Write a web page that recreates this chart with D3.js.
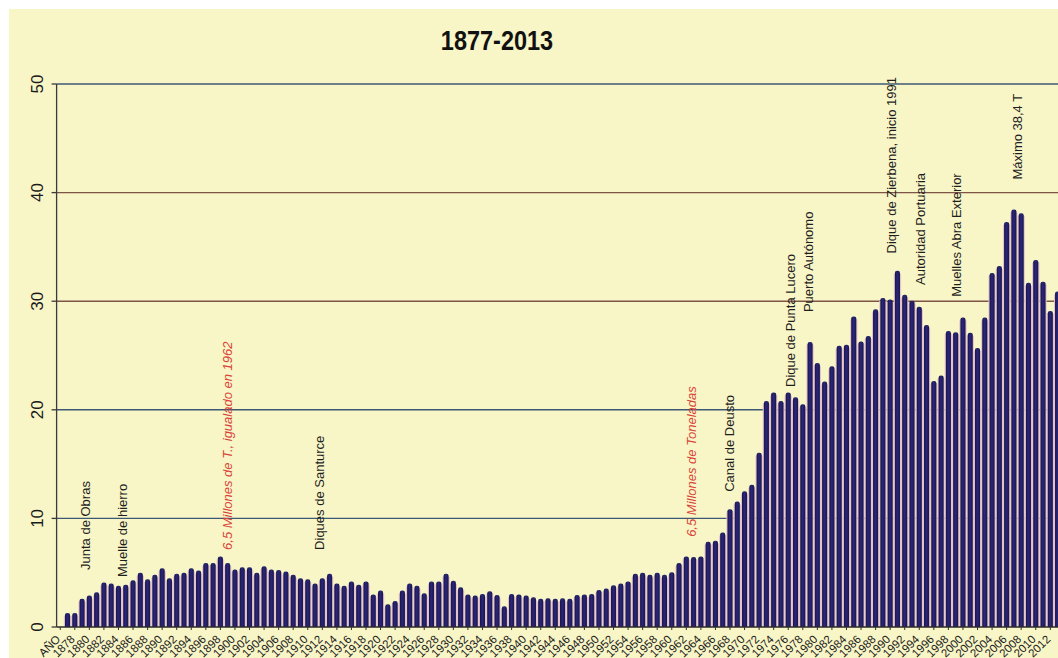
<!DOCTYPE html>
<html><head><meta charset="utf-8">
<script src="https://cdn.jsdelivr.net/npm/d3@7"></script>
<style>body{margin:0;background:#fff} svg{display:block} text{font-family:"Liberation Sans",Arial,sans-serif}</style>
</head><body><svg id="c" width="1058" height="658"></svg>
<script>
const title = "1877-2013";
const years = d3.range(1877, 2014).map(String);
const categories = ["AÑO", ...years];
const tonnage = [
  1.3,1.3,2.6,2.9,3.2,4.1,4.0,3.8,3.9,4.3,
  5.0,4.4,4.8,5.4,4.5,4.9,5.0,5.4,5.2,5.9,
  5.9,6.5,5.9,5.3,5.5,5.5,5.0,5.6,5.3,5.25,
  5.1,4.8,4.5,4.4,4.0,4.5,4.9,4.0,3.8,4.2,
  3.9,4.2,3.0,3.35,2.1,2.4,3.35,4.0,3.8,3.1,
  4.2,4.2,4.9,4.25,3.65,3.0,2.9,3.05,3.3,2.95,
  1.9,3.05,3.0,2.9,2.75,2.6,2.65,2.6,2.65,2.6,
  2.95,3.0,3.05,3.4,3.55,3.85,4.0,4.2,4.9,5.0,
  4.8,5.0,4.8,5.05,5.9,6.5,6.45,6.5,7.85,7.95,
  8.7,10.85,11.55,12.5,13.1,16.05,20.8,21.6,20.8,21.6,
  21.15,20.5,26.25,24.3,22.6,24.0,25.9,26.0,28.6,26.3,
  26.8,29.25,30.3,30.15,32.8,30.6,30.05,29.5,27.8,22.65,
  23.15,27.25,27.15,28.5,27.1,25.7,28.5,32.6,33.25,37.3,
  38.45,38.1,31.7,33.8,31.8,29.1,30.9
];
const yTicks = [0,10,20,30,40,50];
const xTickLabels = ["AÑO", ...d3.range(1878, 2013, 2).map(String)];
const noteTexts = ["Junta de Obras","Muelle de hierro","6,5 Millones de T., igualado en 1962","Diques de Santurce",
  "6,5 Millones de Toneladas","Canal de Deusto","Dique de Punta Lucero","Puerto Autónomo",
  "Dique de Zierbena, inicio 1991","Autoridad Portuaria","Muelles Abra Exterior","Máximo 38,4 T"];
const noteYears = [1879.5,1884.5,1899.0,1911.6,1962.7,1967.9,1976.3,1978.8,1990.2,1994.2,1999.1,2007.4];
const noteBase  = [5.25,4.6,7.1,7.1,8.3,12.45,22.1,29.0,34.4,31.5,30.4,41.2];
const noteKinds = ["event","event","record","event","record","event","event","event","event","event","event","event"];

const W = 1058, H = 658;
const svg = d3.select("#c");
svg.append("rect").attr("x",9).attr("y",9).attr("width",W-9).attr("height",H-9).attr("fill","#f8f5c6");

const step = 7.28, x0 = 56.6;
const x = d3.scaleBand().domain(categories).range([x0, x0 + categories.length*step]).paddingInner(0.3).paddingOuter(0.15);
const y = d3.scaleLinear().domain([0,50]).range([627,84]);
const bw = x.bandwidth();

const defs = svg.append("defs");
const g = defs.append("linearGradient").attr("id","bar").attr("x1","0").attr("x2","1").attr("y1","0").attr("y2","0");
g.append("stop").attr("offset","0%").attr("stop-color","#16134a");
g.append("stop").attr("offset","45%").attr("stop-color","#2b2778");
g.append("stop").attr("offset","100%").attr("stop-color","#191650");

// gridlines
svg.append("g").selectAll("line").data(yTicks.filter(v=>v>0)).join("line")
  .attr("x1", x0).attr("x2", W).attr("y1", d=>y(d)).attr("y2", d=>y(d))
  .attr("stroke", d => (d===30||d===40) ? "#7e5446" : "#3d5873").attr("stroke-width",1.4);

// bars
const data = years.map((yr,i)=>({yr, v: tonnage[i]}));
svg.append("g").selectAll("rect").data(data).join("rect")
  .attr("x", d=>x(d.yr)-1.1).attr("width", bw+2.2)
  .attr("y", d=>y(d.v)+3).attr("height", d=>Math.max(0,y(0)-y(d.v)-3))
  .attr("fill","#e3c2cb");
svg.append("g").selectAll("path").data(data).join("path")
  .attr("fill","url(#bar)")
  .attr("d", d=>{
    const l = x(d.yr), r = l + bw, t = y(d.v), b = y(0), rr = 2.2;
    return `M${l},${b}L${l},${t+rr}Q${l},${t} ${l+rr},${t}L${r-rr},${t}Q${r},${t} ${r},${t+rr}L${r},${b}Z`;
  });

// axes
svg.append("line").attr("x1",x0).attr("x2",x0).attr("y1",y(0)).attr("y2",y(50)).attr("stroke","#3a3a3a").attr("stroke-width",1.3);
svg.append("line").attr("x1",x0).attr("x2",W).attr("y1",y(0)).attr("y2",y(0)).attr("stroke","#2a2a2a").attr("stroke-width",1.3);
svg.append("g").selectAll("line").data(yTicks).join("line")
  .attr("x1",x0-5).attr("x2",x0).attr("y1",d=>y(d)).attr("y2",d=>y(d)).attr("stroke","#3a3a3a").attr("stroke-width",1.3);
svg.append("g").selectAll("text").data(yTicks).join("text")
  .attr("transform", d=>`translate(43,${y(d)}) rotate(-90)`)
  .attr("text-anchor","middle").attr("font-size",17).attr("fill","#1a1a1a").text(d=>d);

const xa = svg.append("g").attr("transform",`translate(0,${y(0)})`)
  .call(d3.axisBottom(x).tickValues(xTickLabels).tickSize(3).tickSizeOuter(0));
xa.select(".domain").remove();
xa.selectAll(".tick line").attr("stroke","#333");
xa.selectAll(".tick text").attr("x",0).attr("y",0).attr("dy","0.35em")
  .attr("transform","translate(-2,10) rotate(-45)").attr("text-anchor","end")
  .attr("font-size",11.5).attr("fill","#1a1a1a").style("font-family",'"Liberation Sans",Arial,sans-serif');

// annotations
function noteX(yr){ const f = Math.floor(yr); return x(String(f)) + bw/2 + (yr-f)*step; }
svg.append("g").selectAll("text").data(noteTexts).join("text")
  .attr("transform",(d,i)=>`translate(${noteX(noteYears[i])},${y(noteBase[i])}) rotate(-90)`)
  .attr("dy","0.36em").attr("text-anchor","start").attr("font-size",13)
  .attr("fill",(d,i)=>noteKinds[i]==="record" ? "#d8433a" : "#1e1e1e")
  .attr("font-style",(d,i)=>noteKinds[i]==="record" ? "italic" : "normal")
  .text(d=>d);

svg.append("text").attr("transform","translate(497,50) scale(0.87,1)").attr("text-anchor","middle")
  .attr("font-size",27).attr("font-weight","bold").attr("fill","#111").text(title);
</script></body></html>
